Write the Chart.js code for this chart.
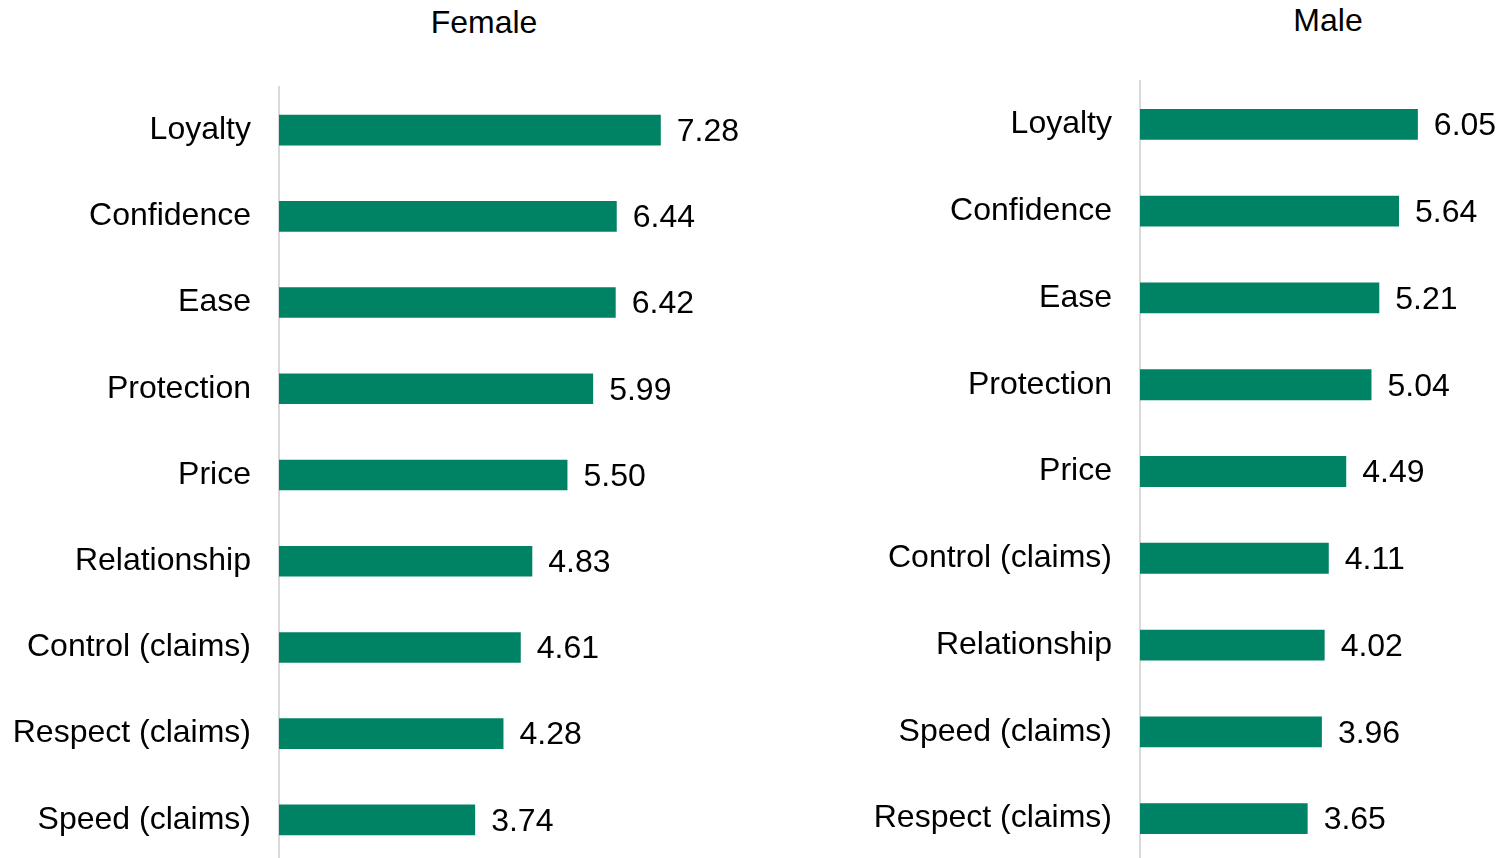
<!DOCTYPE html>
<html>
<head>
<meta charset="utf-8">
<script src="https://cdn.jsdelivr.net/npm/chart.js@4.4.1/dist/chart.umd.min.js"></script>
<style>
  html, body { margin: 0; padding: 0; background: #ffffff; width: 1501px; height: 858px; overflow: hidden; }
  .wrap { position: absolute; }
  .title { position: absolute; font-family: "Liberation Sans", Arial, sans-serif; font-size: 32px; color: #000; white-space: nowrap; transform: translate(-50%, -50%); line-height: 1; }
</style>
</head>
<body>
<div class="title" style="left:484px; top:22px;">Female</div>
<div class="title" style="left:1328px; top:20px;">Male</div>
<div class="wrap" style="left:0px; top:0px;"><canvas id="female" width="751" height="870"></canvas></div>
<div class="wrap" style="left:840px; top:0px;"><canvas id="male" width="661" height="870"></canvas></div>
<script>
const femaleCategories = ['Loyalty', 'Confidence', 'Ease', 'Protection', 'Price', 'Relationship', 'Control (claims)', 'Respect (claims)', 'Speed (claims)'];
const femaleValues = [7.28, 6.44, 6.42, 5.99, 5.50, 4.83, 4.61, 4.28, 3.74];

const maleCategories = ['Loyalty', 'Confidence', 'Ease', 'Protection', 'Price', 'Control (claims)', 'Relationship', 'Speed (claims)', 'Respect (claims)'];
const maleValues = [6.05, 5.64, 5.21, 5.04, 4.49, 4.11, 4.02, 3.96, 3.65];

const FONT = '"Liberation Sans", Arial, sans-serif';
const BAR_COLOR = '#008264';

const valueLabels = {
  id: 'valueLabels',
  afterDatasetsDraw(chart) {
    const ctx = chart.ctx;
    const meta = chart.getDatasetMeta(0);
    const data = chart.data.datasets[0].data;
    ctx.save();
    ctx.font = '32px ' + FONT;
    ctx.fillStyle = '#000000';
    ctx.textBaseline = 'middle';
    ctx.textAlign = 'left';
    meta.data.forEach((bar, i) => {
      ctx.fillText(data[i].toFixed(2), bar.x + 16, bar.y + 2);
    });
    ctx.restore();
  }
};

function makeChart(id, labels, values, axisWidth, xMax, padTop, padBottom) {
  return new Chart(document.getElementById(id), {
    type: 'bar',
    data: {
      labels: labels,
      datasets: [{
        data: values,
        backgroundColor: BAR_COLOR,
        borderWidth: 0,
        categoryPercentage: 1,
        barPercentage: 0.355
      }]
    },
    options: {
      indexAxis: 'y',
      responsive: false,
      animation: false,
      events: [],
      layout: { padding: { left: 0, right: 0, top: padTop, bottom: padBottom } },
      plugins: {
        legend: { display: false },
        tooltip: { enabled: false },
        title: { display: false }
      },
      scales: {
        x: {
          display: false,
          min: 0,
          max: xMax
        },
        y: {
          grid: { display: false, drawTicks: false },
          border: { display: true, color: '#d9d9d9', width: 2 },
          ticks: {
            padding: 28,
            color: '#000000',
            font: { family: FONT, size: 32 }
          },
          afterFit(scale) {
            scale.width = axisWidth;
            scale.paddingTop = 0;
            scale.paddingBottom = 0;
          }
        }
      }
    },
    plugins: [valueLabels]
  });
}

makeChart('female', femaleCategories, femaleValues, 279, 9.0, 87, 7);
makeChart('male', maleCategories, maleValues, 300, 7.86, 81, 8);
</script>
</body>
</html>
